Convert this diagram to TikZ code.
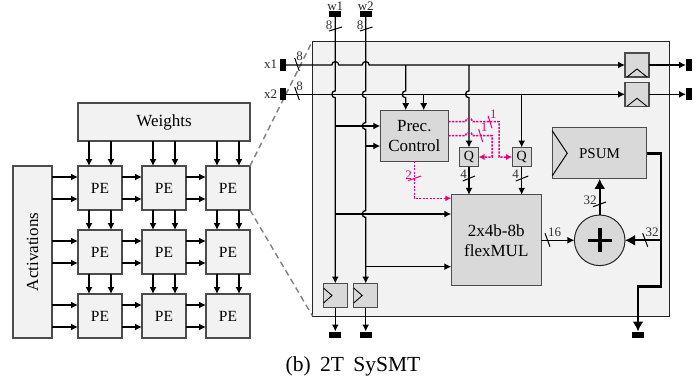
\documentclass[tikz,border=0pt]{standalone}
\usepackage{fontspec}
\setmainfont{Liberation Serif}
\usetikzlibrary{arrows.meta,calc}
\definecolor{boxlight}{HTML}{F2F2F2}
\definecolor{boxdark}{HTML}{D9D9D9}
\definecolor{prec}{HTML}{E6007E}
% little hops where two wires cross
\newcommand{\hopup}[2]{-- ({#1-3.5},#2) .. controls ({#1-3.5},{#2-4.5}) and ({#1+3.5},{#2-4.5}) .. ({#1+3.5},#2)}
\newcommand{\hopleft}[2]{-- (#1,{#2-3.5}) .. controls ({#1-4.5},{#2-3.5}) and ({#1-4.5},{#2+3.5}) .. (#1,{#2+3.5})}
\tikzset{
    block/.style={draw=black!70,line width=1.2pt,inner sep=0pt,outer sep=0pt,font=\fontsize{17}{20}\selectfont,align=center},
    lightblock/.style={block,fill=boxlight},
    darkblock/.style={block,fill=boxdark},
    pin/.style={fill=black,inner sep=0pt,outer sep=0pt},
    wire/.style={line width=1.3pt,-{Latex[length=7pt,width=7pt]}},
    thickwire/.style={line width=2.6pt,-{Latex[length=10pt,width=11pt]}},
    precwire/.style={prec,line width=1.5pt,dash pattern=on 2.2pt off 1.3pt,-{Latex[length=6pt,width=6pt]}},
    slash/.style={line width=1pt},
    width/.style={font=\fontsize{13}{15}\selectfont,text=black!80,inner sep=0pt},
    portname/.style={font=\fontsize{13}{15}\selectfont,text=black!85,inner sep=0pt},
    zoomline/.style={black!50,line width=1.4pt,dash pattern=on 6pt off 4pt},
}
\begin{document}
\begin{tikzpicture}[x=1pt,y=-1pt]
    \useasboundingbox (0,0) rectangle (699,381);

    % PE array
    \node[lightblock,minimum width=172pt,minimum height=38pt] (weights) at (164,122) {Weights};
    \node[lightblock,minimum width=39pt,minimum height=172pt] (activations) at (32.5,252) {\rotatebox{90}{Activations}};
    \foreach \r/\y in {1/188,2/252,3/316} {
        \foreach \c/\x in {1/100,2/164,3/228} {
            \node[lightblock,font=\fontsize{15.5}{18}\selectfont,minimum width=44pt,minimum height=44pt] (pe-\r-\c) at (\x,\y) {PE};
        }
    }
    \foreach \c in {1,2,3} {
        \draw[wire] ([xshift=11pt]pe-1-\c.north west |- weights.south) -- ([xshift=11pt]pe-1-\c.north west);
        \draw[wire] ([xshift=33pt]pe-1-\c.north west |- weights.south) -- ([xshift=33pt]pe-1-\c.north west);
        \draw[wire] ([xshift=11pt]pe-1-\c.south west) -- ([xshift=11pt]pe-2-\c.north west);
        \draw[wire] ([xshift=33pt]pe-1-\c.south west) -- ([xshift=33pt]pe-2-\c.north west);
        \draw[wire] ([xshift=11pt]pe-2-\c.south west) -- ([xshift=11pt]pe-3-\c.north west);
        \draw[wire] ([xshift=33pt]pe-2-\c.south west) -- ([xshift=33pt]pe-3-\c.north west);
    }
    \foreach \r in {1,2,3} {
        \draw[wire] ([yshift=-11pt]pe-\r-1.north west -| activations.east) -- ([yshift=-11pt]pe-\r-1.north west);
        \draw[wire] ([yshift=-33pt]pe-\r-1.north west -| activations.east) -- ([yshift=-33pt]pe-\r-1.north west);
        \draw[wire] ([yshift=-11pt]pe-\r-1.north east) -- ([yshift=-11pt]pe-\r-2.north west);
        \draw[wire] ([yshift=-33pt]pe-\r-1.north east) -- ([yshift=-33pt]pe-\r-2.north west);
        \draw[wire] ([yshift=-11pt]pe-\r-2.north east) -- ([yshift=-11pt]pe-\r-3.north west);
        \draw[wire] ([yshift=-33pt]pe-\r-2.north east) -- ([yshift=-33pt]pe-\r-3.north west);
    }

    % SySMT unit
    \node[draw=black!85,fill=boxlight,line width=1pt,inner sep=0pt,outer sep=0pt,minimum width=357pt,minimum height=275pt] (unit) at (491,178.5) {};
    \draw[zoomline] (pe-1-3.north east) -- (unit.north west);
    \draw[zoomline] (pe-1-3.south east) -- (unit.south west);

    \node[darkblock,minimum width=68pt,minimum height=51pt] (control) at (414.3,135.7) {Prec.\\Control};
    \node[darkblock,font=\fontsize{14}{16}\selectfont,minimum width=19pt,minimum height=19pt] (qa) at (469,157) {Q};
    \node[darkblock,font=\fontsize{14}{16}\selectfont,minimum width=19pt,minimum height=19pt] (qb) at (521.7,157) {Q};
    \node[darkblock,minimum width=90pt,minimum height=91pt] (mul) at (496.3,240.3) {2x4b-8b\\flexMUL};
    \node[darkblock,font=\fontsize{15}{18}\selectfont,minimum width=94.5pt,minimum height=51pt] (psum) at (599.5,153.3) {PSUM};
    \node[darkblock,circle,draw=black!85,line width=1pt,minimum size=50.6pt] (adder) at (599.7,240.3) {};
    \draw[line width=3.6pt] ([xshift=-12pt]adder.center) -- ([xshift=12pt]adder.center);
    \draw[line width=3.6pt] ([yshift=12pt]adder.center) -- ([yshift=-12pt]adder.center);
    \draw[line width=1pt] ([yshift=-3pt]psum.north west) -- ([xshift=15pt]psum.west) -- ([yshift=3pt]psum.south west);

    % flip-flops
    \node[darkblock,minimum size=24pt] (ffx1) at (637,65) {};
    \node[darkblock,minimum size=24pt] (ffx2) at (637,94.3) {};
    \node[darkblock,minimum size=24pt] (ffw1) at (335.5,295.5) {};
    \node[darkblock,minimum size=24pt] (ffw2) at (365.7,295.5) {};
    \foreach \f in {ffx1,ffx2} {
        \draw[line width=.9pt] ([xshift=2pt]\f.south west) -- ([yshift=8pt]\f.south) -- ([xshift=-2pt]\f.south east);
    }
    \foreach \f in {ffw1,ffw2} {
        \draw[line width=.9pt] ([yshift=-4.5pt]\f.north west) -- ([xshift=8.5pt]\f.west) -- ([yshift=4.5pt]\f.south west);
    }

    % pins
    \node[pin,minimum width=12pt,minimum height=6pt] (w1) at (335.3,14) {};
    \node[pin,minimum width=12pt,minimum height=6pt] (w2) at (365.7,14) {};
    \node[pin,minimum width=6pt,minimum height=12pt] (x1) at (283,65) {};
    \node[pin,minimum width=6pt,minimum height=12pt] (x2) at (283,94.3) {};
    \node[pin,minimum width=6pt,minimum height=12pt] (outx1) at (689,65) {};
    \node[pin,minimum width=6pt,minimum height=12pt] (outx2) at (689,94.3) {};
    \node[pin,minimum width=12pt,minimum height=6pt] (outw1) at (335.3,334.5) {};
    \node[pin,minimum width=12pt,minimum height=6pt] (outw2) at (365.7,334.5) {};
    \node[pin,minimum width=12pt,minimum height=6pt] (outsum) at (638,334.5) {};
    \node[portname] (w1name) at (335.3,6) {w1};
    \node[portname] (w2name) at (365.7,6) {w2};
    \node[portname] (x1name) at (270.5,64.5) {x1};
    \node[portname] (x2name) at (270.5,94) {x2};

    % inputs and outputs
    \draw[wire] (x1.east) \hopup{335.3}{65} \hopup{365.7}{65} -- (ffx1.west);
    \draw[wire] (x2.east) -- (ffx2.west);
    \draw[wire] (w1.south) \hopleft{335.3}{94.3} -- (ffw1.north -| w1.south);
    \draw[wire] (w2.south) \hopleft{365.7}{94.3} \hopleft{365.7}{126} \hopleft{365.7}{214} -- (ffw2.north);
    \draw[wire] (ffx1.east) -- (outx1.west);
    \draw[wire] (ffx2.east) -- (outx2.west);
    \draw[wire] (ffw1.south -| outw1.north) -- (outw1.north);
    \draw[wire] (ffw2.south) -- (outw2.north);

    % branches
    \coordinate (tap1) at (405.7,65);
    \coordinate (tap2) at (423.7,94.3);
    \coordinate (tap3) at (469,65);
    \coordinate (tap4) at (521.7,94.3);
    \coordinate (tap5) at (335.3,126);
    \coordinate (tap6) at (365.7,146);
    \coordinate (tap7) at (335.3,214);
    \coordinate (tap8) at (365.7,266.7);
    \draw[wire] (tap1) \hopleft{405.7}{94.3} -- (tap1 |- control.north);
    \draw[wire] (tap2) -- (tap2 |- control.north);
    \draw[wire] (tap3) \hopleft{469}{94.3} -- (qa.north);
    \draw[wire] (tap4) -- (qb.north);
    \draw[wire] (tap5) -- (tap5 -| control.west);
    \draw[wire] (tap6) -- (tap6 -| control.west);
    \draw[wire] (tap7) -- (tap7 -| mul.west);
    \draw[wire] (tap8) -- (tap8 -| mul.west);
    \draw[wire] (qa.south) -- (qa.south |- mul.north);
    \draw[wire] (qb.south) -- (qb.south |- mul.north);
    \draw[wire] (mul.east) -- (adder.west);
    \draw[thickwire,line width=2.2pt] (adder.north) -- (psum.south -| adder.north);

    % running sum
    \coordinate (sumright) at (661,153.3);
    \coordinate (sumdown) at (661,286.7);
    \coordinate (sumleft) at (638,286.7);
    \coordinate (sumtap) at (661,240.3);
    \draw[thickwire] (psum.east) -- (sumright) -- (sumdown) -- (sumleft) -- (outsum.north);
    \draw[thickwire,line width=1.8pt] (sumtap) -- (adder.east);

    % precision signals
    \coordinate (preca) at (448.3,121.7);
    \coordinate (precb) at (448.3,135.7);
    \coordinate (precc) at (414.3,161.2);
    \coordinate (precd) at (414.3,198.3);
    \coordinate (prece) at (499,121.7);
    \coordinate (precf) at (492,135.7);
    \draw[precwire] (preca) \hopup{469}{121.7} -- (prece) -- (prece |- qb.west) -- (qb.west);
    \draw[precwire] (precb) \hopup{469}{135.7} -- (precf) -- (precf |- qa.east) -- (qa.east);
    \draw[precwire] (precc) -- (precd) -- (precd -| mul.west);

    % bus widths
    \draw[slash] (329,31) -- (342,27);
    \draw[slash] (360,31) -- (372.5,27);
    \draw[slash] (294.7,58) -- (299.3,71);
    \draw[slash] (294.7,87) -- (299.3,100);
    \draw[slash] (462.7,181) -- (475,176);
    \draw[slash] (515.7,181) -- (528.3,176);
    \draw[slash] (593,206.7) -- (606,202);
    \draw[slash] (545,233.3) -- (550,246.7);
    \draw[slash] (642.7,233.3) -- (647.7,246.7);
    \draw[slash,prec] (488,115.7) -- (492,128.3);
    \draw[slash,prec] (478.7,129.3) -- (482.7,142);
    \draw[slash,prec] (408.3,180.7) -- (421,176);
    \node[width] (w1width) at (329,25) {8};
    \node[width] (w2width) at (360,25) {8};
    \node[width] (x1width) at (299.5,56.5) {8};
    \node[width] (x2width) at (299.5,86.5) {8};
    \node[width] (qawidth) at (463.5,174.5) {4};
    \node[width] (qbwidth) at (515.5,174.5) {4};
    \node[width] (mulwidth) at (554.5,232.5) {16};
    \node[width] (addwidth) at (590,200.5) {32};
    \node[width] (sumwidth) at (652,232.5) {32};
    \node[width,text=prec] (precawidth) at (493.3,114) {1};
    \node[width,text=prec] (precbwidth) at (484,127.5) {1};
    \node[width,text=prec] (preccwidth) at (408.5,175) {2};

    \node[font=\fontsize{21.5}{24}\selectfont,inner sep=0pt] (caption) at (353,366) {(b)\hspace{4pt} 2T\hspace{4pt} SySMT};
\end{tikzpicture}
\end{document}
